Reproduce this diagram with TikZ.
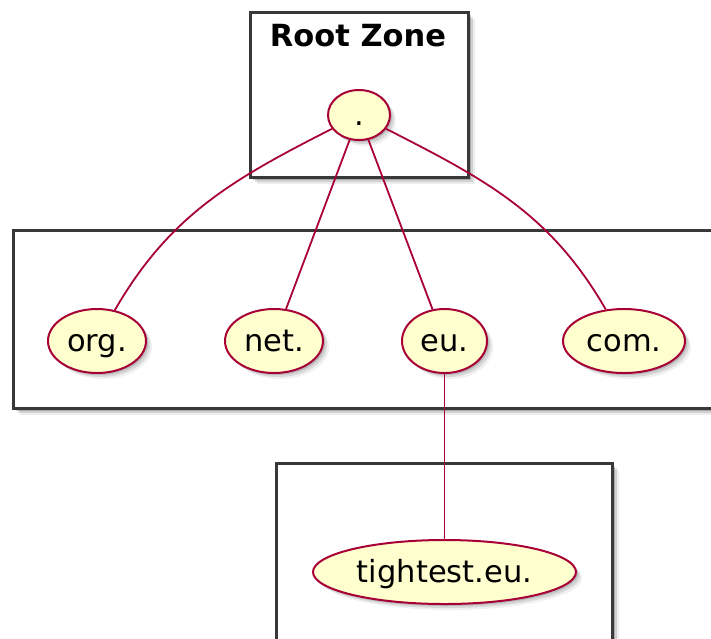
\documentclass[tikz,border=0pt]{standalone}
\usepackage{fontspec}
\setmainfont{DejaVu Sans}
\usetikzlibrary{shapes.geometric,shadows}
\definecolor{umlfill}{HTML}{FEFECE}
\definecolor{umlline}{HTML}{A80036}
\definecolor{boxline}{HTML}{383838}
\begin{document}
\begin{tikzpicture}[x=1pt,y=1pt,
  zonebox/.style={draw=boxline,line width=3pt,fill=white,
    drop shadow={shadow xshift=7pt,shadow yshift=-7pt,fill=black,opacity=0.07},
    drop shadow={shadow xshift=5pt,shadow yshift=-5pt,fill=black,opacity=0.12},
    drop shadow={shadow xshift=3pt,shadow yshift=-3pt,fill=black,opacity=0.18}},
  zone/.style={ellipse,draw=umlline,line width=2pt,fill=umlfill,inner sep=0pt,
    font=\fontsize{30.5}{36}\selectfont,text height=22pt,text depth=2pt,
    drop shadow={shadow xshift=6pt,shadow yshift=-6pt,fill=black,opacity=0.06},
    drop shadow={shadow xshift=4pt,shadow yshift=-4pt,fill=black,opacity=0.10},
    drop shadow={shadow xshift=2pt,shadow yshift=-2pt,fill=black,opacity=0.14}},
  link/.style={draw=umlline,line width=1.8pt}]
\useasboundingbox (0,0) rectangle (711,-638);
\clip (0,0) rectangle (711,-638);
% boxes
\path[zonebox] (250,-12) rectangle (468,-177);
\path[zonebox] (13,-230) rectangle (740,-408);
\path[zonebox] (276,-463) rectangle (612,-680);
\node[font=\bfseries\fontsize{30.5}{36}\selectfont,anchor=base] (title) at (358,-46.5) {Root Zone};
% nodes
\node[zone,minimum width=62pt,minimum height=50pt] (dot) at (359,-115) {.};
\node[zone,minimum width=98pt,minimum height=64pt] (org) at (97,-341) {org.};
\node[zone,minimum width=98pt,minimum height=64pt] (net) at (274,-341) {net.};
\node[zone,minimum width=85pt,minimum height=64pt] (eu) at (444.5,-341) {eu.};
\node[zone,minimum width=122pt,minimum height=64pt] (com) at (624,-341) {com.};
\node[zone,minimum width=263pt,minimum height=64pt] (tight) at (444.5,-572) {tightest.eu.};
% links
\draw[link] (dot) to[out=207,in=60] (org);
\draw[link] (dot) -- (net);
\draw[link] (dot) -- (eu);
\draw[link] (dot) to[out=-27,in=120] (com);
\draw[link] (eu) -- (tight);
\end{tikzpicture}
\end{document}
